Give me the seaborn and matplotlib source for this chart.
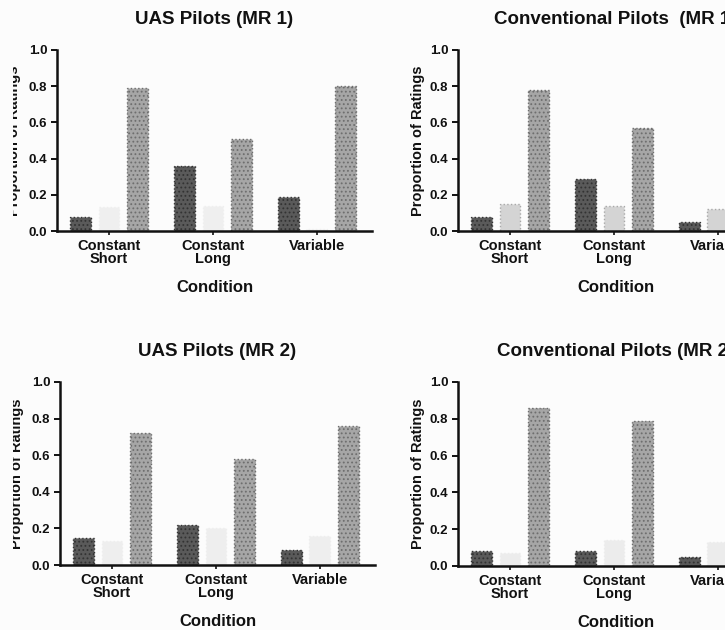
import matplotlib
matplotlib.use("Agg")
import matplotlib.pyplot as plt
from matplotlib.transforms import Bbox, TransformedBbox
import numpy as np
import pandas as pd
import seaborn as sns

# data
conditions = ["Constant\nShort", "Constant\nLong", "Variable"]
rating_levels = ["Low", "Middle", "High"]

uas_mr1_low = [0.08, 0.36, 0.19]
uas_mr1_mid = [0.13, 0.14, 0.01]
uas_mr1_high = [0.79, 0.51, 0.80]

conv_mr1_low = [0.08, 0.29, 0.05]
conv_mr1_mid = [0.15, 0.14, 0.12]
conv_mr1_high = [0.78, 0.57, 0.83]

uas_mr2_low = [0.15, 0.22, 0.08]
uas_mr2_mid = [0.13, 0.20, 0.16]
uas_mr2_high = [0.72, 0.58, 0.76]

conv_mr2_low = [0.08, 0.08, 0.05]
conv_mr2_mid = [0.07, 0.14, 0.13]
conv_mr2_high = [0.86, 0.79, 0.82]

titles = ["UAS Pilots (MR 1)", "Conventional Pilots  (MR 1)",
          "UAS Pilots (MR 2)", "Conventional Pilots (MR 2)"]
panel_values = [
    (uas_mr1_low, uas_mr1_mid, uas_mr1_high),
    (conv_mr1_low, conv_mr1_mid, conv_mr1_high),
    (uas_mr2_low, uas_mr2_mid, uas_mr2_high),
    (conv_mr2_low, conv_mr2_mid, conv_mr2_high),
]


def make_frame(low, mid, high):
    rows = []
    for level, vals in zip(rating_levels, (low, mid, high)):
        for cond, v in zip(conditions, vals):
            rows.append({"Condition": cond, "Rating": level, "Proportion": v})
    return pd.DataFrame(rows)


sns.set_style("ticks")
plt.rcParams["font.family"] = ["Liberation Sans", "DejaVu Sans"]
plt.rcParams["font.weight"] = "bold"
plt.rcParams["hatch.linewidth"] = 0.8

W, H = 725, 630
fig = plt.figure(figsize=(W / 100, H / 100), dpi=100)
fig.patch.set_facecolor("#fcfcfc")

# axes boxes in pixels: left, top (y=1), bottom (y=0)
boxes = [(57, 50, 231), (458, 50, 231), (60, 382, 565), (458, 382, 566)]
mid_colors = ["#efefef", "#d4d4d4", "#eeeeee", "#ececec"]
mid_edges = ["#efefef", "#a8a8a8", "#eeeeee", "#ececec"]
label_x = [-0.115, -0.105, -0.115, -0.105]

for i, (vals, title, (l, t, b)) in enumerate(zip(panel_values, titles, boxes)):
    ax = fig.add_axes([l / W, (H - b) / H, 315 / W, (b - t) / H])
    ax.set_facecolor("none")
    df = make_frame(*vals)
    sns.barplot(data=df, x="Condition", y="Proportion", hue="Rating",
                order=conditions, hue_order=rating_levels,
                palette=["#5a5a5a", mid_colors[i], "#a6a6a6"],
                width=0.825, gap=0.27, errorbar=None, legend=False, ax=ax)

    styles = [
        dict(edgecolor="#333333", hatch="....", linestyle=":", linewidth=1.0),
        dict(edgecolor=mid_edges[i], hatch="", linestyle=":", linewidth=1.0),
        dict(edgecolor="#6e6e6e", hatch="....", linestyle=":", linewidth=1.0),
    ]
    for container, st in zip(ax.containers, styles):
        for bar in container:
            bar.set_edgecolor(st["edgecolor"])
            bar.set_hatch(st["hatch"])
            bar.set_linestyle(st["linestyle"])
            bar.set_linewidth(st["linewidth"])

    ax.set_xlim(-0.5, 2.53)
    ax.set_ylim(0, 1.0)
    ax.set_yticks(np.arange(0, 1.01, 0.2))
    ax.set_yticklabels([f"{v:.1f}" for v in np.arange(0, 1.01, 0.2)],
                       fontsize=9.5, fontweight="bold")
    sns.despine(ax=ax)
    for side in ["left", "bottom"]:
        ax.spines[side].set_linewidth(1.8)
        ax.spines[side].set_color("#111111")
    ax.tick_params(axis="y", length=4, width=1.4, pad=3, colors="#111111")
    ax.tick_params(axis="x", length=3, width=1.2, pad=3, labelsize=10.5,
                   colors="#111111")
    for lab in ax.get_xticklabels():
        lab.set_linespacing(0.85)
        lab.set_fontweight("bold")

    ax.set_title(title, fontsize=13.5, fontweight="bold", pad=19, color="#111111")
    ax.set_xlabel("Condition", fontsize=12, fontweight="bold", labelpad=10,
                  color="#111111")
    ax.set_ylabel("Proportion of Ratings", fontsize=10.5, fontweight="bold",
                  color="#111111")
    ax.yaxis.set_label_coords(label_x[i], 0.5)
    if i in (0, 2):
        # the scan cuts off the left edge of the page
        clip = TransformedBbox(Bbox([[13 / W, 0], [1, 1]]), fig.transFigure)
        ax.yaxis.label.set_clip_box(clip)
        ax.yaxis.label.set_clip_on(True)

fig.savefig("out.png", dpi=100, facecolor=fig.get_facecolor())
